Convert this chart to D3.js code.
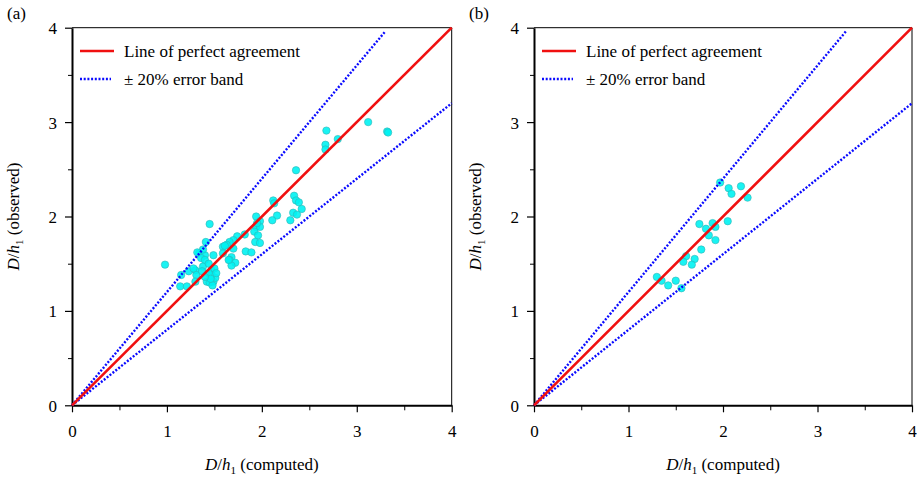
<!DOCTYPE html>
<html lang="en">
<head>
    <script src="https://d3js.org/d3.v7.min.js"></script>
    <style>
        body { margin: 0; background: #fff; }
        text { font-family: "Liberation Serif", "Times New Roman", serif; fill: #000; }
    </style>
</head>
<body>
    <div id="graph"></div>
    <script>
        // panel (a) data: computed vs observed D/h1
        var aComputed = [2.68, 2.67, 2.67, 2.80, 3.12, 3.32, 3.33, 2.36,
            2.12, 2.13, 2.34, 2.36, 2.39, 2.42, 2.33, 2.37, 2.30, 2.16, 2.11,
            1.94, 1.98, 1.94, 1.98, 1.92, 1.96, 1.93, 1.98, 1.95,
            1.82, 1.74, 1.70, 1.66, 1.63, 1.59, 1.61, 1.70, 1.83, 1.89, 1.59, 1.68, 1.66, 1.72, 1.68, 1.65,
            1.45, 1.41, 1.34, 1.40, 1.49, 1.36, 1.40, 1.38, 1.32, 0.98, 1.15, 1.23, 1.30, 1.31, 1.38, 1.44,
            1.47, 1.28, 1.14, 1.21, 1.30, 1.42, 1.45, 1.49, 1.51, 1.47, 1.44, 1.48, 1.46, 1.50, 1.52, 1.40, 1.37];
        var aObserved = [2.91, 2.76, 2.71, 2.82, 3.00, 2.90, 2.89, 2.49,
            2.17, 2.14, 2.22, 2.17, 2.15, 2.08, 2.04, 2.02, 1.96, 2.01, 1.96,
            2.00, 1.95, 1.89, 1.89, 1.84, 1.80, 1.73, 1.72, 1.93,
            1.81, 1.79, 1.75, 1.73, 1.70, 1.68, 1.69, 1.66, 1.63, 1.62, 1.61, 1.57, 1.54, 1.51, 1.48, 1.54,
            1.92, 1.73, 1.61, 1.59, 1.59, 1.56, 1.54, 1.65, 1.62, 1.49, 1.38, 1.42, 1.43, 1.38, 1.47, 1.50,
            1.43, 1.45, 1.26, 1.26, 1.31, 1.31, 1.30, 1.31, 1.35, 1.38, 1.40, 1.27, 1.34, 1.45, 1.40, 1.36, 1.42];

        // panel (b) data
        var bComputed = [1.97, 2.06, 2.09, 2.19, 2.26, 2.05, 1.75, 1.89, 1.82, 1.92, 1.85,
            1.92, 1.77, 1.61, 1.58, 1.70, 1.67, 1.30, 1.35, 1.42, 1.50, 1.56];
        var bObserved = [2.36, 2.30, 2.24, 2.32, 2.20, 1.95, 1.92, 1.93, 1.87, 1.89, 1.80,
            1.75, 1.65, 1.58, 1.52, 1.55, 1.49, 1.36, 1.32, 1.27, 1.32, 1.24];

        var majorTicks = [0, 1, 2, 3, 4];
        var minorTicks = [0.5, 1.5, 2.5, 3.5];
        var legendLabels = ["Line of perfect agreement", "\u00b1 20% error band"];

        var serif = "'Liberation Serif', 'Times New Roman', serif";

        var svg = d3.select("#graph").append("svg")
            .attr("width", 917)
            .attr("height", 478);

        function drawPanel(left, right, tag, comp, obs) {
            var x = d3.scaleLinear().domain([0, 4]).range([left, right]);
            var y = d3.scaleLinear().domain([0, 4]).range([405.3, 27.7]);
            var g = svg.append("g");

            // top and right frame (thin)
            g.append("path")
                .attr("d", "M" + x(0) + "," + y(4) + "H" + x(4) + "V" + y(0))
                .attr("fill", "none").attr("stroke", "#000").attr("stroke-width", 1);

            // minor ticks
            g.append("g").attr("transform", "translate(0," + y(0) + ")")
                .call(d3.axisBottom(x).tickValues(minorTicks).tickSize(5).tickFormat(""))
                .call(a => a.select(".domain").remove());
            g.append("g").attr("transform", "translate(" + x(0) + ",0)")
                .call(d3.axisLeft(y).tickValues(minorTicks).tickSize(4).tickFormat(""))
                .call(a => a.select(".domain").remove());

            // major axes
            var xa = g.append("g").attr("transform", "translate(0," + y(0) + ")")
                .call(d3.axisBottom(x).tickValues(majorTicks).tickSize(7).tickSizeOuter(0).tickPadding(9).tickFormat(d3.format("d")));
            var ya = g.append("g").attr("transform", "translate(" + x(0) + ",0)")
                .call(d3.axisLeft(y).tickValues(majorTicks).tickSize(7).tickSizeOuter(0).tickPadding(8).tickFormat(d3.format("d")));
            [xa, ya].forEach(function(a) {
                a.select(".domain").attr("stroke-width", 2);
                a.selectAll(".tick line").attr("stroke-width", 1.2);
                a.selectAll("text").style("font-size", "17px").style("font-family", serif);
            });
            xa.selectAll("text").attr("dy", "0.9em");
            ya.selectAll("text").attr("dy", "0.35em");

            // points
            var pts = comp.map((c, i) => ({c: c, o: obs[i]}));
            g.append("g").selectAll("circle")
                .data(pts).enter().append("circle")
                .attr("cx", d => x(d.c))
                .attr("cy", d => y(d.o))
                .attr("r", 3.7)
                .attr("fill", "#00f2f2")
                .attr("fill-opacity", 0.9)
                .attr("stroke", "#2fb5b5")
                .attr("stroke-width", 0.6);

            // +-20% band and 1:1 line
            var line = d3.line().x(d => x(d[0])).y(d => y(d[1]));
            g.append("path").datum([[0, 0], [3.3, 3.96]]).attr("d", line)
                .attr("fill", "none").attr("stroke", "#0a0aff").attr("stroke-width", 2.4)
                .attr("stroke-dasharray", "2,1.7");
            g.append("path").datum([[0, 0], [4, 3.2]]).attr("d", line)
                .attr("fill", "none").attr("stroke", "#0a0aff").attr("stroke-width", 2.4)
                .attr("stroke-dasharray", "2,1.7");
            g.append("path").datum([[0, 0], [4, 4]]).attr("d", line)
                .attr("fill", "none").attr("stroke", "#f01010").attr("stroke-width", 2.6);

            // legend
            var lx = x(0) + 8;
            g.append("line").attr("x1", lx).attr("x2", lx + 34).attr("y1", 51).attr("y2", 51)
                .attr("stroke", "#f01010").attr("stroke-width", 2.6);
            g.append("line").attr("x1", lx).attr("x2", lx + 31).attr("y1", 79).attr("y2", 79)
                .attr("stroke", "#0a0aff").attr("stroke-width", 2.4).attr("stroke-dasharray", "2,1.7");
            g.selectAll(".leg").data(legendLabels).enter().append("text")
                .attr("x", lx + 44).attr("y", (d, i) => 57 + i * 28)
                .style("font-family", serif)
                .style("font-size", "17px")
                .text(d => d);

            // panel tag
            g.append("text").attr("x", x(0) - 65).attr("y", 19)
                .style("font-family", serif).style("font-size", "17px").text(tag);

            // axis titles
            var xt = g.append("text").attr("x", (x(0) + x(4)) / 2).attr("y", 470)
                .attr("text-anchor", "middle").style("font-family", serif).style("font-size", "17px");
            axisTitle(xt, "(computed)");
            var yt = g.append("text")
                .attr("transform", "translate(" + (x(0) - 53) + "," + ((y(0) + y(4)) / 2) + ") rotate(-90)")
                .attr("text-anchor", "middle").style("font-family", serif).style("font-size", "17px");
            axisTitle(yt, "(observed)");
        }

        function axisTitle(t, tail) {
            t.append("tspan").style("font-style", "italic").text("D");
            t.append("tspan").text("/");
            t.append("tspan").style("font-style", "italic").text("h");
            t.append("tspan").attr("dy", 4).style("font-size", "11px").text("1");
            t.append("tspan").attr("dy", -4).text(" " + tail);
        }

        drawPanel(72, 451.7, "(a)", aComputed, aObserved);
        drawPanel(534, 912, "(b)", bComputed, bObserved);
    </script>
</body>
</html>
